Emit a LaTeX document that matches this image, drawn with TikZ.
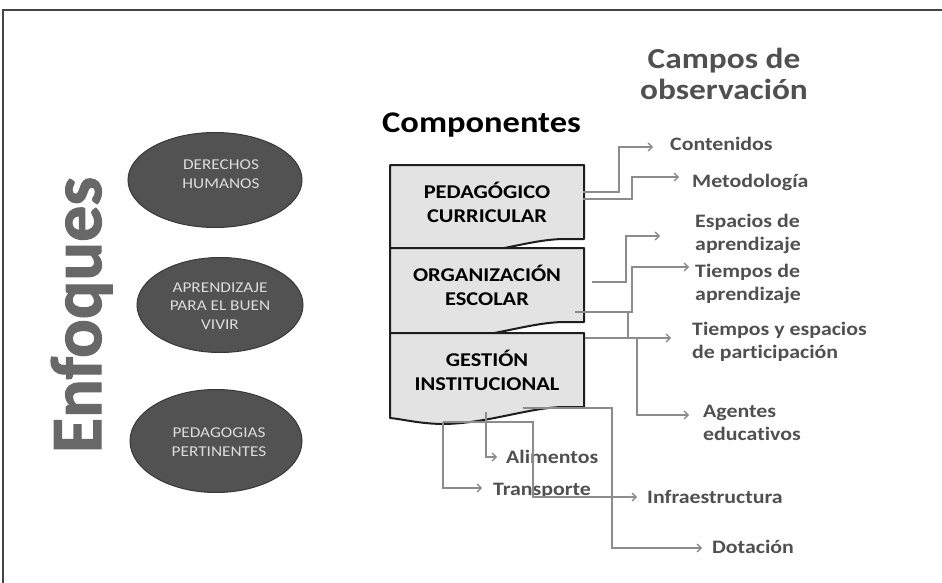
\documentclass[tikz,border=0pt]{standalone}
\usepackage{fontspec}
\setmainfont{Carlito}[Ligatures=NoCommon]
\newfontfamily\cw{Carlito}[FakeStretch=1.15, Ligatures=NoCommon]
\newfontfamily\enffont{Carlito}[FakeBold=1.6, Ligatures=NoCommon]
\usetikzlibrary{shapes.geometric,arrows.meta}
\definecolor{lblgray}{HTML}{505050}
\definecolor{enfgray}{HTML}{686868}
\definecolor{linegray}{HTML}{8C8C8C}
\definecolor{boxfill}{HTML}{E3E3E3}
\definecolor{boxline}{HTML}{1E1E1E}
\definecolor{ellfill}{HTML}{525252}
\definecolor{elledge}{HTML}{383838}
\definecolor{elltext}{HTML}{DCDCDC}
\definecolor{framecol}{HTML}{444444}
\tikzset{
  conn/.style={draw=linegray, line width=1.3pt},
  arr/.style={conn, -{Straight Barb[length=4pt,width=8pt]}},
  lbl/.style={font=\cw\bfseries\fontsize{19}{23}\selectfont, text=lblgray, inner sep=0pt, align=left, anchor=base west},
  boxlbl/.style={font=\cw\bfseries\fontsize{19.5}{24}\selectfont, align=center, inner sep=0pt},
  elltxt/.style={font=\cw\fontsize{15}{18.5}\selectfont, text=elltext, align=center, inner sep=0pt},
  ellnode/.style={ellipse, fill=ellfill, draw=elledge, line width=1pt, inner sep=0pt},
  docbox/.pic={\path[fill=boxfill, draw=boxline, line width=2pt, line join=round]
    (0,0) -- (194,0) -- (194,74) -- (175,74) .. controls (140,74) and (100,90) .. (55,91)
    .. controls (30,91) and (12,86) .. (0,85) -- cycle;}
}
\begin{document}
\begin{tikzpicture}[x=1pt,y=-1pt]
\useasboundingbox (0,0) rectangle (942,583);
\fill[white] (0,0) rectangle (942,583);
\draw[framecol, line width=2pt] (3,583) -- (3,10) -- (942,10);

% Enfoques
\node[rotate=90, anchor=base, inner sep=0pt, font=\enffont\bfseries\fontsize{72}{72}\selectfont, text=enfgray] (enf) at (101,315) {Enfoques};

% ellipses
\node[ellnode, minimum width=174pt, minimum height=95pt] (e1) at (215,180) {};
\node[elltxt] (e1t) at (221,174) {DERECHOS\\HUMANOS};
\node[ellnode, minimum width=166pt, minimum height=95pt] (e2) at (220,305) {};
\node[elltxt] (e2t) at (220,306) {APRENDIZAJE\\PARA EL BUEN\\VIVIR};
\node[ellnode, minimum width=172pt, minimum height=103pt] (e3) at (216,441) {};
\node[elltxt] (e3t) at (219,442) {PEDAGOGIAS\\PERTINENTES};

% headings
\node[anchor=base west, inner sep=0pt, font=\cw\bfseries\fontsize{30}{30}\selectfont] (comp) at (382,133) {Componentes};
\node[anchor=base, inner sep=0pt, align=center, text=lblgray, font=\cw\bfseries\fontsize{29}{32}\selectfont] (campos) at (724,100) {Campos de\\observación};

% component boxes
\pic (b1) at (390,165) {docbox};
\pic (b2) at (390,248) {docbox};
\pic (b3) at (390,333) {docbox};
\node[boxlbl] (b1t) at (487,202) {PEDAGÓGICO\\CURRICULAR};
\node[boxlbl] (b2t) at (487,285) {ORGANIZACIÓN\\ESCOLAR};
\node[boxlbl] (b3t) at (487,370) {GESTIÓN\\INSTITUCIONAL};

% field labels
\node[lbl] (l1) at (670,150) {Contenidos};
\node[lbl] (l2) at (692,187) {Metodología};
\node[lbl] (l3) at (695,250) {Espacios de\\aprendizaje};
\node[lbl] (l4) at (695,300) {Tiempos de\\aprendizaje};
\node[lbl] (l5) at (692,358) {Tiempos y espacios\\de participación};
\node[lbl] (l6) at (703,440) {Agentes\\educativos};
\node[lbl] (l7) at (506,463) {Alimentos};
\node[lbl] (l8) at (493,495) {Transporte};
\node[lbl] (l9) at (647,503) {Infraestructura};
\node[lbl] (l10) at (712,553) {Dotación};

% connector points
\coordinate (s1) at (583,192); \coordinate (k1) at (619,147); \coordinate (a1) at (653,147);
\coordinate (s2) at (583,199); \coordinate (k2) at (632,177); \coordinate (a2) at (679,177);
\coordinate (s3) at (592,282); \coordinate (k3) at (626,236); \coordinate (a3) at (660,236);
\coordinate (s4) at (575,312); \coordinate (k4) at (632,267); \coordinate (a4) at (689,267);
\coordinate (j4) at (628,312); \coordinate (j5) at (628,338);
\coordinate (s5) at (585,338); \coordinate (a5) at (671,338);
\coordinate (j6) at (637,338); \coordinate (k6) at (637,415); \coordinate (a6) at (689,415);
\coordinate (s10) at (523,408); \coordinate (k10) at (612,548); \coordinate (a10) at (702,548);
\coordinate (s7) at (486,412); \coordinate (k7) at (486,457); \coordinate (a7) at (497,457);
\coordinate (s8) at (443,422); \coordinate (k8) at (443,488); \coordinate (a8) at (482,488);
\coordinate (k9) at (533,497); \coordinate (a9) at (637,497);

% connectors
\draw[arr] (s1) -| (k1) -- (a1);
\draw[arr] (s2) -| (k2) -- (a2);
\draw[arr] (s3) -| (k3) -- (a3);
\draw[arr] (s4) -| (k4) -- (a4);
\draw[conn] (j4) -- (j5);
\draw[arr] (s5) -- (a5);
\draw[arr] (j6) -- (k6) -- (a6);
\draw[arr] (s10) -| (k10) -- (a10);
\draw[arr] (s7) -- (k7) -- (a7);
\draw[arr] (s8) -- (k8) -- (a8);
\draw[arr] (s8) -| (k9) -- (a9);
\end{tikzpicture}
\end{document}
